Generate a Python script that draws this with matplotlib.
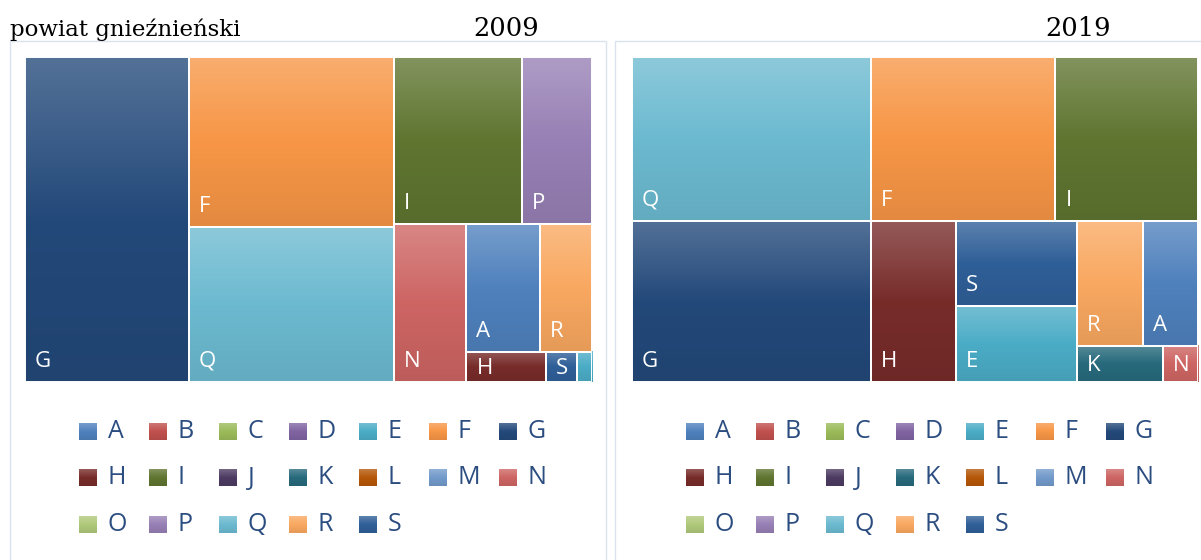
import numpy as np
import matplotlib.pyplot as plt
from matplotlib.patches import Rectangle
from matplotlib.colors import to_rgb

# sections A..S, share of units (%)
categories = list('ABCDEFGHIJKLMNOPQRS')
values_2009 = [5.1, 0, 0, 0, 0.25, 18.9, 28.9, 1.3, 11.6, 0, 0, 0, 0, 6.2, 0, 6.3, 17.2, 3.6, 0.5]
values_2019 = [3.7, 0, 0, 0, 5.0, 16.4, 20.9, 7.4, 12.7, 0, 1.7, 0, 0, 0.7, 0, 0, 21.3, 4.5, 5.6]
colors = ['#4F81BD', '#C0504D', '#9BBB59', '#8064A2', '#4BACC6', '#F79646', '#23497A',
          '#772C2A', '#5F7530', '#4D3B62', '#276A7C', '#B65708', '#729ACA', '#CD6563',
          '#AFC97A', '#9780B5', '#6CBAD0', '#F9A860', '#2F5F98']

# nesting of the tiles (h = side by side, v = stacked), as Excel arranged them
tree_2009 = ('h', ['G', ('v', ['F', 'Q']),
                   ('v', [('h', ['I', 'P']),
                          ('h', ['N', ('v', [('h', ['A', 'R']), ('h', ['H', 'S', 'E'])])])])])
tree_2019 = ('v', [('h', ['Q', 'F', 'I']),
                   ('h', ['G', 'H', ('v', ['S', 'E']),
                          ('v', [('h', ['R', 'A']), ('h', ['K', 'N'])])])])


def total(node, vals):
    if isinstance(node, str):
        return vals[node]
    return sum(total(k, vals) for k in node[1])


def layout(node, vals, x, y, w, h, out):
    if isinstance(node, str):
        out[node] = (x, y, w, h)
        return
    orient, kids = node
    tot = total(node, vals)
    for k in kids:
        f = total(k, vals) / tot
        if orient == 'h':
            layout(k, vals, x, y, w * f, h, out)
            x += w * f
        else:
            layout(k, vals, x, y, w, h * f, out)
            y += h * f


def shade(c, amt):
    c = np.array(to_rgb(c))
    if amt > 0:
        return c + (1 - c) * amt
    return c * (1 + amt)


def gradient(c, n=64):
    top, mid, bot = shade(c, 0.22), shade(c, 0), shade(c, -0.08)
    t = np.linspace(0, 1, n)[:, None]
    g = np.where(t < 0.5, top + (mid - top) * t * 2, mid + (bot - mid) * (t - 0.5) * 2)
    return g[:, None, :]


def treemap(ax, tree, values):
    vals = dict(zip(categories, values))
    rects = {}
    layout(tree, vals, 0, 0, 1, 1, rects)
    pos = ax.get_position()
    axw = pos.width * fig.get_figwidth() * fig.dpi
    axh = pos.height * fig.get_figheight() * fig.dpi
    for name, (x, y, w, h) in rects.items():
        c = colors[categories.index(name)]
        b, t = 1 - y - h, 1 - y
        ax.imshow(gradient(c), extent=(x, x + w, b, t), aspect='auto', interpolation='bilinear')
        ax.add_patch(Rectangle((x, b), w, h, facecolor='none', edgecolor='white', lw=1.4))
        if w * axw < 24:  # Excel drops labels that do not fit
            continue
        if h * axh < 45:
            ax.annotate(name, (x, b + h / 2), xytext=(10, -2), textcoords='offset pixels',
                        color='white', fontsize=16, family='Open Sans', va='center')
        else:
            ax.annotate(name, (x, b), xytext=(10, 15), textcoords='offset pixels',
                        color='white', fontsize=16, family='Open Sans', va='baseline')
    ax.set_xlim(0, 1)
    ax.set_ylim(0, 1)
    ax.axis('off')


def legend(ax):
    for i, name in enumerate(categories):
        r, c = divmod(i, 7)
        ax.imshow(gradient(colors[i]), extent=(c, c + 0.243, r + 0.68, r + 0.32),
                  aspect='auto', interpolation='bilinear')
        ax.text(c + 0.41, r + 0.5, name, color='#2B4D80', fontsize=18, family='Open Sans',
                va='center', ha='left')
    ax.set_xlim(0, 7)
    ax.set_ylim(3, 0)
    ax.axis('off')


W, H = 1201, 560
fig = plt.figure(figsize=(W / 100, H / 100), dpi=100)


def box(x0, y0, x1, y1):
    return [x0 / W, 1 - y1 / H, (x1 - x0) / W, (y1 - y0) / H]


# panel frames
for x0, x1 in [(9.5, 605.5), (614.5, 1205)]:
    fig.add_artist(Rectangle((x0 / W, -0.1), (x1 - x0) / W, 1.1 - 41 / H,
                             transform=fig.transFigure, facecolor='none',
                             edgecolor='#D9E2EE', lw=1))

ax1 = fig.add_axes(box(25, 57, 592, 382))
treemap(ax1, tree_2009, values_2009)
ax2 = fig.add_axes(box(632, 57, 1198, 382))
treemap(ax2, tree_2019, values_2019)

lg1 = fig.add_axes(box(79, 408, 569, 548))
legend(lg1)
lg2 = fig.add_axes(box(686, 408, 1176, 548))
legend(lg2)

fig.text(10 / W, 1 - 36 / H, 'powiat gnieźnieński', family='DejaVu Serif', fontsize=16.5, va='baseline')
fig.text(506 / W, 1 - 36 / H, '2009', family='DejaVu Serif', fontsize=18.5, va='baseline', ha='center')
fig.text(1078 / W, 1 - 36 / H, '2019', family='DejaVu Serif', fontsize=18.5, va='baseline', ha='center')

fig.savefig('out.png', dpi=100)
